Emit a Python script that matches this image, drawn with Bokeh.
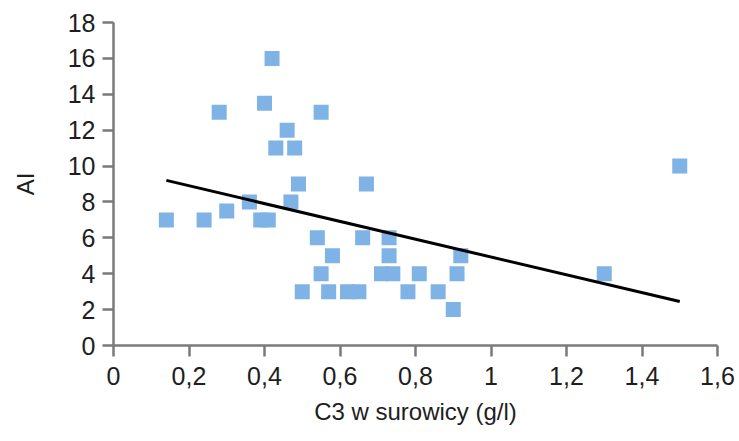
from bokeh.plotting import figure
from bokeh.models import Range1d, FixedTicker, CustomJSTickFormatter, ColumnDataSource
from bokeh.embed import file_html
from bokeh.resources import INLINE

# Data
c3_values = [0.14, 0.24, 0.30, 0.36, 0.39, 0.41, 0.28, 0.40, 0.42, 0.43, 0.46, 0.48,
             0.47, 0.49, 0.55, 0.67, 0.54, 0.58, 0.55, 0.50, 0.57, 0.62, 0.65, 0.66,
             0.73, 0.73, 0.71, 0.74, 0.78, 0.81, 0.86, 0.90, 0.91, 0.92, 1.30, 1.50]
ai_values = [7, 7, 7.5, 8, 7, 7, 13, 13.5, 16, 11, 12, 11,
             8, 9, 13, 9, 6, 5, 4, 3, 3, 3, 3, 6,
             6, 5, 4, 4, 3, 4, 3, 2, 4, 5, 4, 10]
trend_x = [0.14, 1.50]
trend_y = [9.2, 2.45]
x_ticks = [0, 0.2, 0.4, 0.6, 0.8, 1.0, 1.2, 1.4, 1.6]
y_ticks = [0, 2, 4, 6, 8, 10, 12, 14, 16, 18]
x_title = "C3 w surowicy (g/l)"
y_title = "AI"

FONT = "Liberation Sans"
TEXT = "#1e1e1e"
AXIS = "#7a7a7a"

p = figure(width=739, height=441, output_backend="svg", toolbar_location=None,
           x_range=Range1d(0, 1.6), y_range=Range1d(0, 18),
           min_border_left=113, min_border_right=22, min_border_top=22, min_border_bottom=96)
p.outline_line_color = None
p.xgrid.visible = False
p.ygrid.visible = False
p.background_fill_color = "white"
p.border_fill_color = "white"

src = ColumnDataSource(dict(x=c3_values, y=ai_values))
p.scatter("x", "y", source=src, marker="square", size=15,
          fill_color="#7fb2e5", line_color=None)
p.line(trend_x, trend_y, line_color="black", line_width=3)

for ax in (p.xaxis[0], p.yaxis[0]):
    ax.axis_line_color = AXIS
    ax.axis_line_width = 2.5
    ax.major_tick_line_color = AXIS
    ax.major_tick_line_width = 2.5
    ax.major_tick_in = 0
    ax.major_tick_out = 11
    ax.minor_tick_line_color = None
    ax.major_label_text_font = FONT
    ax.major_label_text_font_size = "25px"
    ax.major_label_text_color = TEXT
    ax.axis_label_text_font = FONT
    ax.axis_label_text_font_size = "24px"
    ax.axis_label_text_font_style = "normal"
    ax.axis_label_text_color = TEXT

p.xaxis.ticker = FixedTicker(ticks=x_ticks)
p.yaxis.ticker = FixedTicker(ticks=y_ticks)
p.xaxis.formatter = CustomJSTickFormatter(
    code="return tick.toFixed(1).replace(/\\.0$/, '').replace('.', ',');")
p.xaxis.major_label_standoff = 10
p.yaxis.major_label_standoff = 7
p.xaxis.axis_label = x_title
p.yaxis.axis_label = y_title
p.xaxis.axis_label_standoff = 10
p.yaxis.axis_label_standoff = 26

open("out.html", "w").write(file_html(p, INLINE))
